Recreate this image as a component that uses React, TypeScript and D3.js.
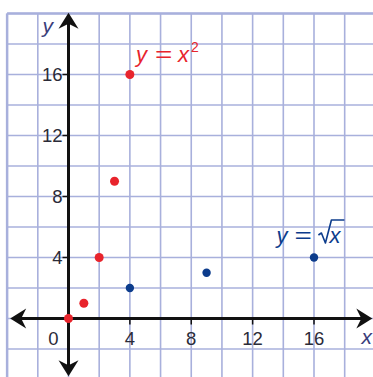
import * as d3 from 'd3'

const gridXs = d3.range(-4, 21, 2)
const gridYs = d3.range(-4, 21, 2)
const xTicks = [4, 8, 12, 16]
const yTicks = [4, 8, 12, 16]
const squareX = [0, 1, 2, 3, 4]
const squareY = [0, 1, 4, 9, 16]
const rootX = [4, 9, 16]
const rootY = [2, 3, 4]

const W = 373
const H = 377
const GRID = '#a8b0dc'
const RED = '#e8242c'
const BLUE = '#0c3c8c'
const INK = '#2b2b38'
const FONT = 'Liberation Sans, Arial, sans-serif'

// 1 unit ≈ 15.3 px, origin at (68.5, 318.5)
const x = d3.scaleLinear().domain([0, 16]).range([68.5, 314])
const y = d3.scaleLinear().domain([0, 16]).range([318.5, 74.5])

function arrow(tx: number, ty: number, dir: 'up' | 'down' | 'left' | 'right') {
  // notched arrowhead, tip at (tx, ty)
  const pts: [number, number][] = [
    [0, 0],
    [-16, -10],
    [-11, 0],
    [-16, 10],
  ]
  const rot = { right: 0, down: 90, left: 180, up: -90 }[dir]
  return (
    <path
      d={d3.line()(pts) + 'Z'}
      transform={`translate(${tx},${ty}) rotate(${rot})`}
      fill="#111"
    />
  )
}

export default function App() {
  const left = x(-4)
  const top = y(20)

  // label anchors
  const sqX = x(4.4)
  const sqB = y(16.8)
  const rtX = x(13.55)
  const rtB = y(4.95)

  return (
    <div style={{ position: 'absolute', left: 0, top: 0 }}>
      <svg width={W} height={H} style={{ display: 'block', background: '#fff' }}>
        <g stroke={GRID} strokeWidth={1.6}>
          {gridXs.map((v) => (
            <line key={'gx' + v} x1={x(v)} x2={x(v)} y1={top} y2={H} />
          ))}
          {gridYs.map((v) => (
            <line key={'gy' + v} x1={left} x2={W} y1={y(v)} y2={y(v)} />
          ))}
        </g>
        <line x1={left} x2={W} y1={top} y2={top} stroke={GRID} strokeWidth={2.5} />
        <line x1={left} x2={left} y1={top} y2={H} stroke={GRID} strokeWidth={2.5} />

        {/* axes */}
        <g stroke="#111" strokeWidth={3}>
          <line x1={x(-3.5)} x2={x(19.5)} y1={y(0)} y2={y(0)} />
          <line x1={x(0)} x2={x(0)} y1={y(19.7)} y2={y(-3.5)} />
        </g>
        {arrow(x(19.8), y(0), 'right')}
        {arrow(x(-3.8), y(0), 'left')}
        {arrow(x(0), y(20.05), 'up')}
        {arrow(x(0), y(-3.78), 'down')}

        {/* ticks */}
        <g stroke="#111" strokeWidth={1.5}>
          {xTicks.map((v) => (
            <line key={'xt' + v} x1={x(v)} x2={x(v)} y1={y(0)} y2={y(0) + 6} />
          ))}
          {yTicks.map((v) => (
            <line key={'yt' + v} x1={x(0) - 6} x2={x(0)} y1={y(v)} y2={y(v)} />
          ))}
        </g>
        <g fontFamily={FONT} fontSize={18.5} fill={INK}>
          {xTicks.map((v) => (
            <text key={'xl' + v} x={x(v)} y={y(0) + 26} textAnchor="middle">
              {v}
            </text>
          ))}
          <text x={x(0) - 15} y={y(0) + 26} textAnchor="middle">
            0
          </text>
          {yTicks.map((v) => (
            <text key={'yl' + v} x={x(0) - 6} y={y(v) + 6.5} textAnchor="end">
              {v}
            </text>
          ))}
        </g>
        <g fontFamily={FONT} fontSize={21} fontStyle="italic" fill="#3a3d7a">
          <text x={x(-1.7)} y={y(18.7)}>y</text>
          <text x={x(19.1)} y={y(-1.7)}>x</text>
        </g>

        {/* points */}
        {squareX.map((v, i) => (
          <circle key={'s' + i} cx={x(v)} cy={y(squareY[i])} r={4.5} fill={RED} />
        ))}
        {rootX.map((v, i) => (
          <circle key={'r' + i} cx={x(v)} cy={y(rootY[i])} r={4.2} fill={BLUE} />
        ))}

        {/* curve labels */}
        <g fontFamily={FONT} fontSize={22} fill={RED}>
          <text x={sqX} y={sqB} fontStyle="italic">y</text>
          <text x={sqX + 19} y={sqB} transform={`translate(${sqX + 19},0) scale(1.35,1) translate(${-(sqX + 19)},0)`}>=</text>
          <text x={sqX + 42} y={sqB} fontStyle="italic">x</text>
          <text x={sqX + 55} y={sqB - 10} fontSize={14}>2</text>
        </g>
        <g fontFamily={FONT} fontSize={22} fill={BLUE}>
          <text x={rtX} y={rtB} fontStyle="italic">y</text>
          <text x={rtX + 18} y={rtB} transform={`translate(${rtX + 18},0) scale(1.35,1) translate(${-(rtX + 18)},0)`}>=</text>
          <path
            d={`M${rtX + 42},${rtB - 8} L${rtX + 45},${rtB - 10} L${rtX + 49},${rtB} L${rtX + 55},${rtB - 23} L${rtX + 68},${rtB - 23}`}
            fill="none"
            stroke={BLUE}
            strokeWidth={1.6}
            strokeLinejoin="round"
          />
          <text x={rtX + 53} y={rtB} fontStyle="italic">x</text>
        </g>
      </svg>
    </div>
  )
}
